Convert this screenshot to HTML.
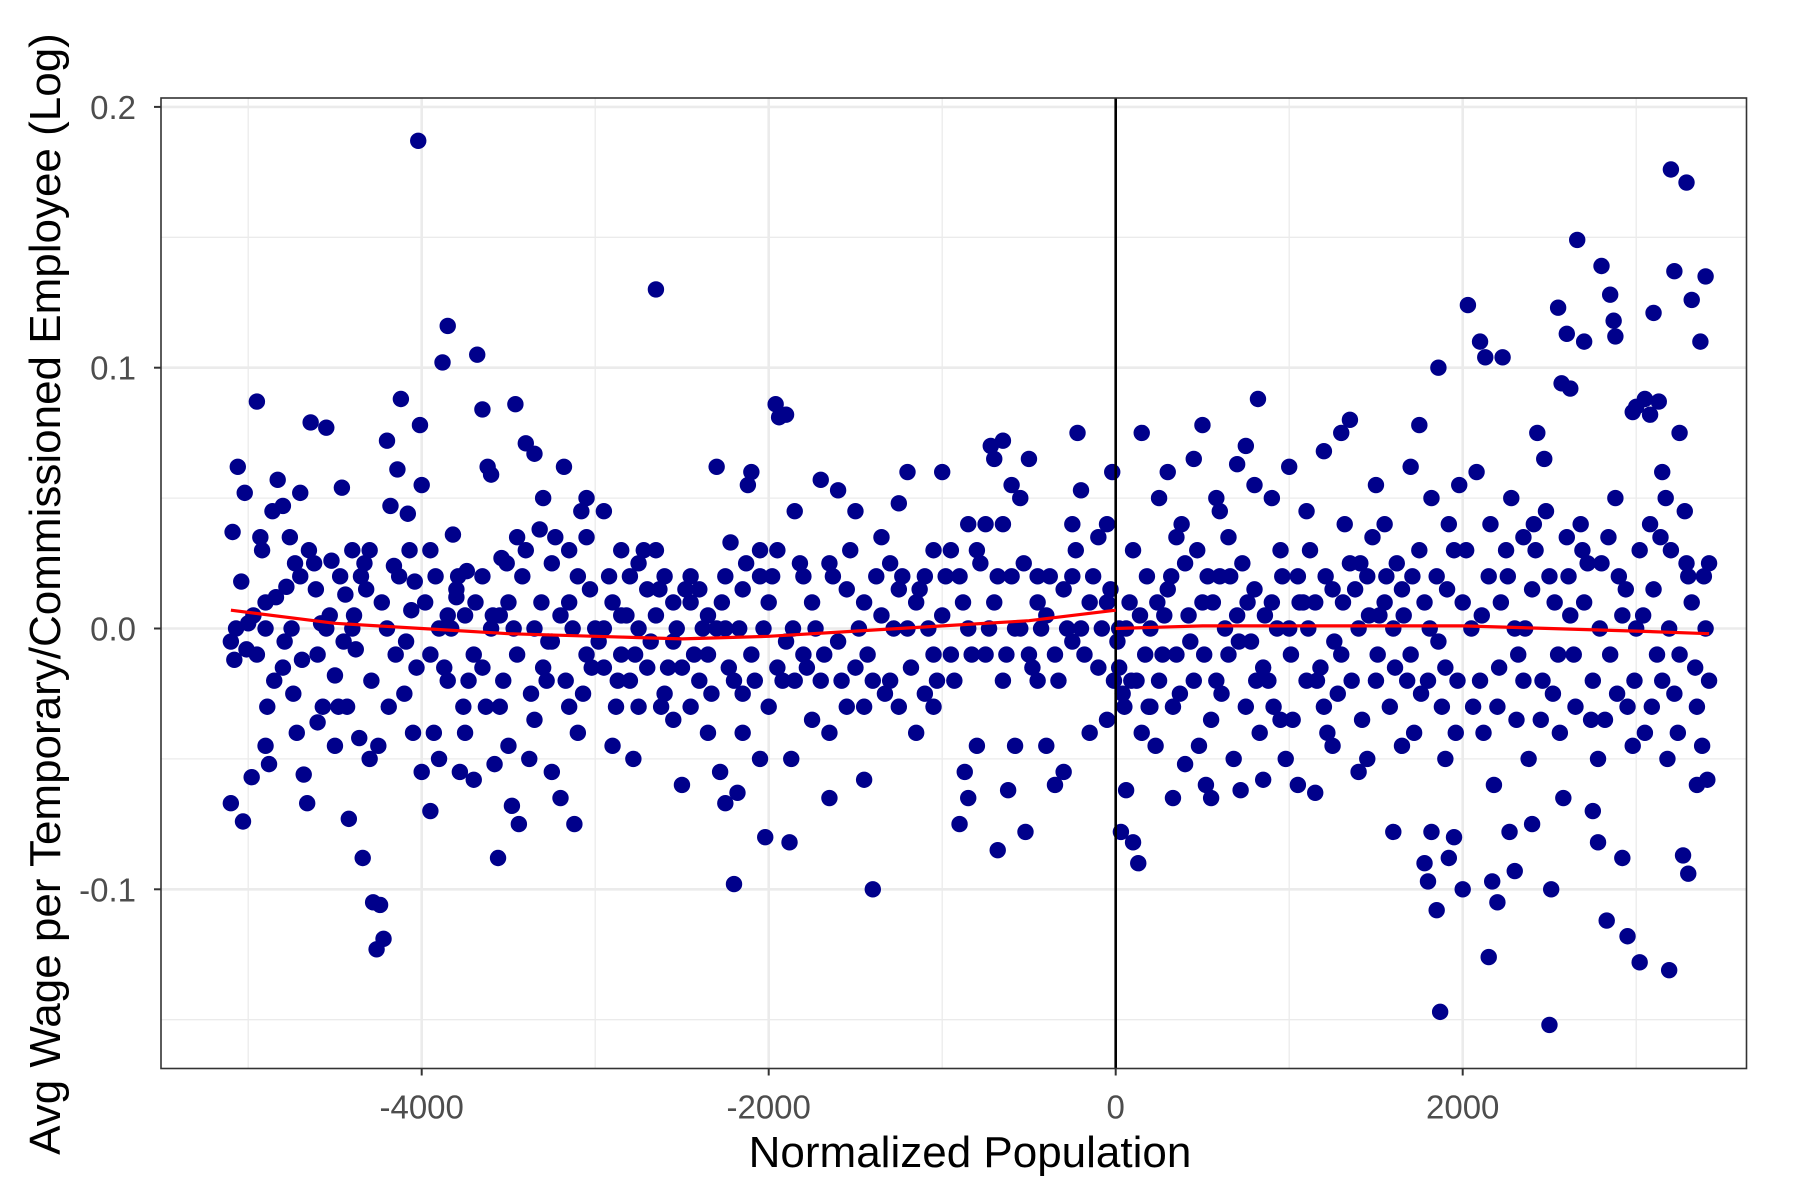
<!DOCTYPE html>
<html><head><meta charset="utf-8"><style>
html,body{margin:0;padding:0;background:#fff;}
svg{display:block;font-family:"Liberation Sans",Arial,sans-serif;}
</style></head><body>
<svg id="chart" width="1800" height="1200" viewBox="0 0 1800 1200" xmlns="http://www.w3.org/2000/svg">
<rect width="1800" height="1200" fill="#fff"/>
<g id="grid"></g>
<g id="marks"></g>
<g id="lines"></g>
<g id="axes"></g>
<text x="970" y="1167" text-anchor="middle" font-size="44" fill="#000">Normalized Population</text>
<text transform="translate(60,594) rotate(-90)" text-anchor="middle" font-size="44" fill="#000">Avg Wage per Temporary/Commissioned Employee (Log)</text>
</svg>
<script>
const xTicks=[-4000,-2000,0,2000];
const xTickLabels=["-4000","-2000","0","2000"];
const xMinor=[-5000,-3000,-1000,1000,3000];
const yTicks=[-0.1,0,0.1,0.2];
const yTickLabels=["-0.1","0.0","0.1","0.2"];
const yMinor=[-0.15,-0.05,0.05,0.15];
const ptX=[-5100,-5080,-5090,-5060,-5040,-5020,-5000,-4950,-4980,-5030,-5100,-4900,-4880,-4920,-4860,-4830,-4800,-4780,-4760,-4740,-4720,-4700,-4680,-4660,-4640,-4620,-4600,-4580,-4550,-4520,-4500,-4480,-4460,-4440,-4420,-4400,-4380,-4360,-4340,-4320,-4300,-4280,-4260,-4240,-4220,-4200,-4180,-4160,-4140,-4120,-4100,-4080,-4060,-4040,-4000,-4020,-4010,-4000,-4950,-4900,-4850,-4800,-4700,-4600,-4500,-4400,-4300,-4200,-4150,-4050,-4900,-4750,-4650,-4550,-4450,-4350,-4250,
-3950,-3930,-3900,-3880,-3850,-3820,-3800,-3780,-3760,-3740,-3700,-3680,-3650,-3620,-3600,-3580,-3560,-3540,-3500,-3480,-3460,-3440,-3400,-3380,-3350,-3320,-3300,-3280,-3250,-3200,-3180,-3150,-3120,-3100,-3080,-3050,-3020,-3000,-3950,-3900,-3850,-3800,-3750,-3700,-3650,-3600,-3550,-3500,-3450,-3400,-3350,-3300,-3250,-3200,-3150,-3100,-3050,-3950,-3850,-3750,-3650,-3550,-3450,-3350,-3250,-3150,-3050,
-2950,-2900,-2880,-2850,-2800,-2780,-2750,-2700,-2650,-2620,-2600,-2550,-2500,-2450,-2400,-2350,-2300,-2280,-2250,-2220,-2200,-2180,-2150,-2120,-2100,-2050,-2020,-2000,-1960,-1940,-1900,-1880,-1870,-1850,-2950,-2900,-2850,-2800,-2750,-2700,-2650,-2600,-2550,-2500,-2450,-2400,-2350,-2300,-2250,-2200,-2150,-2100,-2050,-2000,-1950,-1900,-2950,-2850,-2750,-2650,-2550,-2450,-2350,-2250,-2150,-2050,-1950,
-1800,-1750,-1700,-1650,-1600,-1550,-1500,-1450,-1400,-1350,-1300,-1250,-1200,-1150,-1100,-1050,-1000,-950,-900,-870,-850,-800,-750,-720,-700,-680,-650,-620,-600,-580,-550,-520,-500,-450,-400,-350,-300,-250,-220,-200,-150,-100,-50,-20,-10,-1800,-1750,-1700,-1650,-1600,-1550,-1500,-1450,-1400,-1350,-1300,-1250,-1200,-1150,-1100,-1050,-1000,-950,-900,-850,-800,-750,-700,-650,-600,-550,-500,-450,-400,-350,-300,-250,-200,-150,-100,-50,-1850,-1650,-1450,-1250,-1050,-850,-650,-450,-250,-50,
20,30,60,100,130,150,180,200,250,300,330,350,400,450,500,520,550,580,600,650,700,720,750,800,820,850,900,950,20,50,80,120,150,200,250,300,350,400,450,500,550,600,650,700,750,800,850,900,950,40,100,170,230,280,330,380,430,480,530,580,630,680,730,780,830,880,930,980,
1000,1050,1100,1150,1200,1250,1300,1350,1400,1450,1500,1550,1600,1650,1700,1750,1780,1800,1820,1850,1860,1870,1900,1920,1950,2000,1000,1050,1100,1150,1200,1250,1300,1350,1400,1450,1500,1550,1600,1650,1700,1750,1800,1850,1900,1950,2000,1020,1120,1220,1320,1420,1520,1620,1720,1820,1920,1980,1080,1180,1280,1380,1480,1580,1680,1780,1880,1960,
2030,2100,2130,2150,2170,2200,2230,2270,2300,2350,2400,2430,2470,2500,2510,2550,2570,2600,2620,2660,2700,2750,2780,2800,2830,2850,2870,2880,2920,2950,2980,3000,3020,3050,3080,3100,3130,3150,3170,3190,3200,3220,3250,3270,3290,3300,3320,3350,3370,3400,3410,3420,2050,2100,2150,2200,2250,2300,2350,2400,2450,2500,2550,2600,2650,2700,2750,2800,2850,2900,2950,3000,3050,3100,3150,3200,3250,3300,3350,3400,2080,2180,2280,2380,2480,2580,2680,2780,2880,2980,3080,3180,3280,3380,2120,2220,2320,2420,2520,2620,2720,2820,2920,3020,3120,3220,3320,3420,
-5070,-5010,-4970,-4930,-4890,-4840,-4790,-4730,-4690,-4610,-4570,-4530,-4470,-4430,-4390,-4330,-4290,-4230,-4190,-4130,-4090,-4070,-4030,-3980,-3920,-3870,-3830,-3790,-3730,-3690,-3630,-3590,-3530,-3510,-3470,-3420,-3370,-3310,-3270,-3230,-3170,-3130,-3070,-3030,-2980,-2920,-2870,-2820,-2770,-2720,-2680,-2630,-2580,-2530,-2480,-2430,-2380,-2330,-2270,-2230,-2170,-2130,-2080,-2030,-1980,-1920,-1860,-1820,-1780,-1730,-1680,-1630,-1580,-1530,-1480,-1430,-1380,-1330,-1280,-1230,-1180,-1130,-1080,-1030,-980,-930,-880,-830,-780,-730,-680,-630,-580,-530,-480,-430,-380,-330,-280,-230,-180,-130,-80,-30,
10,60,90,140,190,240,270,320,370,420,470,510,560,610,660,710,760,810,860,910,960,1010,1060,1110,1160,1210,1260,1310,1360,1410,1460,1510,1560,1610,1660,1710,1760,1810,1860,1910,1970,2020,2060,2110,2160,2210,2260,2310,2360,2410,2460,2530,2560,2610,2640,2690,2740,2790,2840,2890,2940,2990,3040,3090,3140,3190,3240,3290,3340,3390];
const ptY=[-0.005,-0.012,0.037,0.062,0.018,0.052,0.002,0.087,-0.057,-0.074,-0.067,-0.045,-0.052,0.03,0.045,0.057,0.047,0.016,0.035,-0.025,-0.04,0.052,-0.056,-0.067,0.079,0.025,-0.036,0.002,0.077,0.026,-0.018,-0.03,0.054,0.013,-0.073,0.0,-0.008,-0.042,-0.088,0.015,0.03,-0.105,-0.123,-0.106,-0.119,0.072,0.047,0.024,0.061,0.088,-0.025,0.044,0.007,0.018,-0.055,0.187,0.078,0.055,-0.01,0.0,-0.02,-0.015,0.02,-0.01,-0.045,0.03,-0.05,0.0,-0.01,-0.04,0.01,0.0,0.03,0.0,-0.005,0.02,-0.045,
-0.07,-0.04,-0.05,0.102,0.116,0.036,0.012,-0.055,-0.03,0.022,-0.058,0.105,0.084,0.062,0.059,-0.052,-0.088,0.027,-0.045,-0.068,0.086,-0.075,0.071,-0.05,0.067,0.038,0.05,-0.02,-0.055,-0.065,0.062,0.03,-0.075,-0.04,0.045,0.05,-0.015,0.0,0.03,0.0,-0.02,0.015,0.005,-0.01,0.02,0.0,-0.03,0.01,-0.01,0.03,0.0,-0.015,0.025,0.005,-0.03,0.02,-0.01,-0.01,0.005,-0.04,-0.015,0.005,0.035,-0.035,-0.005,0.01,0.035,
0.045,-0.045,-0.03,0.03,0.02,-0.05,0.0,0.015,0.13,-0.03,0.02,-0.005,-0.06,0.01,-0.02,0.005,0.062,-0.055,-0.067,0.033,-0.098,-0.063,-0.04,0.055,0.06,0.02,-0.08,-0.03,0.086,0.081,0.082,-0.082,-0.05,0.045,0.0,0.01,-0.01,-0.02,0.025,-0.015,0.005,-0.025,0.01,-0.015,-0.03,0.015,-0.01,0.0,0.02,-0.02,0.015,-0.01,0.03,0.01,0.03,-0.005,-0.015,0.005,-0.03,0.03,-0.035,0.02,-0.04,0.0,-0.025,-0.05,-0.015,
0.02,-0.035,0.057,-0.065,0.053,-0.03,0.045,-0.058,-0.1,0.035,-0.02,0.048,0.06,-0.04,0.02,-0.01,0.06,0.03,-0.075,-0.055,-0.065,-0.045,0.04,0.07,0.065,-0.085,0.072,-0.062,0.055,-0.045,0.05,-0.078,0.065,0.02,-0.045,-0.06,-0.055,0.04,0.075,0.053,-0.04,0.035,0.04,0.06,-0.02,-0.01,0.01,-0.02,0.025,-0.005,0.015,-0.015,0.01,-0.02,0.005,0.025,-0.03,0.0,0.01,-0.025,0.03,0.005,-0.01,0.02,0.0,0.03,-0.01,0.01,-0.02,0.02,0.0,-0.01,0.01,0.005,-0.01,0.015,-0.005,0.0,0.01,-0.015,0.01,-0.02,-0.04,-0.03,0.015,-0.03,0.04,0.04,-0.02,0.02,-0.035,
-0.015,-0.078,-0.062,-0.082,-0.09,0.075,0.02,-0.03,0.05,0.06,-0.065,0.035,-0.052,0.065,0.078,-0.06,-0.065,0.05,0.045,0.035,0.063,-0.062,0.07,0.055,0.088,-0.058,0.05,-0.035,0.0,-0.03,0.01,-0.02,-0.04,0.0,-0.02,0.015,-0.01,0.025,-0.02,0.01,-0.035,0.02,-0.01,0.005,-0.03,0.015,-0.015,0.01,0.03,-0.025,0.03,-0.01,-0.045,0.005,-0.03,0.04,-0.005,-0.045,0.02,-0.02,0.0,-0.05,0.025,-0.005,-0.04,-0.02,0.0,-0.05,
0.062,-0.06,0.045,-0.063,0.068,-0.045,0.075,0.08,-0.055,-0.05,0.055,0.04,-0.078,-0.045,0.062,0.078,-0.09,-0.097,-0.078,-0.108,0.1,-0.147,-0.05,-0.088,-0.08,-0.1,0.0,0.02,-0.02,0.01,-0.03,0.015,-0.01,0.025,0.0,0.02,-0.02,0.01,0.0,0.015,-0.01,0.03,-0.02,0.02,-0.015,0.03,0.01,-0.035,0.03,-0.04,0.04,-0.035,0.005,0.025,-0.04,0.05,0.04,0.055,0.01,-0.015,-0.025,0.015,0.035,-0.03,-0.02,0.01,-0.03,-0.04,
0.124,0.11,0.104,-0.126,-0.097,-0.105,0.104,-0.078,-0.093,0.035,-0.075,0.075,0.065,-0.152,-0.1,0.123,0.094,0.113,0.092,0.149,0.11,-0.07,-0.082,0.139,-0.112,0.128,0.118,0.112,-0.088,-0.118,0.083,0.085,-0.128,0.088,0.082,0.121,0.087,0.06,0.05,-0.131,0.176,0.137,0.075,-0.087,0.171,-0.094,0.126,-0.06,0.11,0.135,-0.058,0.025,0.0,-0.02,0.02,-0.03,0.03,0.0,-0.02,0.015,-0.035,0.02,-0.01,0.035,-0.03,0.01,-0.02,0.025,-0.01,0.02,-0.03,0.0,-0.04,0.015,-0.02,0.03,-0.01,0.02,-0.03,0.0,0.06,-0.06,0.05,-0.05,0.045,-0.065,0.04,-0.05,0.05,-0.045,0.04,-0.05,0.045,-0.045,-0.04,0.01,-0.01,0.03,-0.025,0.005,0.025,-0.035,0.005,0.03,-0.01,-0.025,0.01,-0.02,
0.0,-0.008,0.005,0.035,-0.03,0.012,-0.005,0.025,-0.012,0.015,-0.03,0.005,0.02,-0.03,0.005,0.025,-0.02,0.01,-0.03,0.02,-0.005,0.03,-0.015,0.01,0.02,-0.015,0.0,0.02,-0.02,0.01,-0.03,0.005,-0.02,0.025,0.0,0.02,-0.025,0.01,-0.005,0.035,-0.02,0.0,-0.025,0.015,-0.005,0.02,-0.02,0.005,-0.01,0.03,-0.005,0.015,-0.015,0.0,0.015,-0.01,0.0,-0.025,0.01,-0.015,0.0,0.025,-0.02,0.0,0.02,-0.02,0.0,0.025,-0.015,0.0,-0.01,0.02,-0.02,0.03,0.0,-0.01,0.02,-0.025,0.0,0.02,-0.015,0.015,0.0,-0.02,0.02,-0.02,0.01,-0.01,0.025,0.0,0.02,-0.01,0.0,0.025,-0.015,0.0,0.02,-0.02,0.0,0.03,-0.01,0.02,0.0,0.015,
-0.005,0.0,-0.02,0.005,-0.03,0.01,-0.01,0.02,-0.025,0.005,0.03,-0.01,0.01,-0.025,0.02,-0.005,0.01,-0.02,0.005,-0.03,0.02,-0.01,0.01,0.0,-0.02,0.02,-0.005,0.01,-0.02,0.025,0.005,-0.01,0.02,-0.015,0.005,0.02,-0.025,0.0,-0.005,0.015,-0.02,0.03,-0.03,0.005,0.04,-0.015,0.02,-0.035,0.0,0.04,-0.02,0.01,-0.04,0.02,-0.01,0.03,-0.035,0.0,0.035,-0.025,0.015,-0.02,0.005,-0.03,0.035,0.0,-0.04,0.025,-0.015,0.02];
const fitLeftX=[-5100,-4500,-4000,-3500,-3000,-2500,-2000,-1500,-1000,-500,0];
const fitLeftY=[0.007,0.002,0.0,-0.002,-0.003,-0.004,-0.003,-0.001,0.001,0.003,0.007];
const fitRightX=[0,500,1000,1500,2000,2500,3000,3420];
const fitRightY=[0.0,0.001,0.001,0.001,0.001,0.0,-0.001,-0.002];

const L=161,R=1746.5,T=98,B=1068.5;
function sx(v){return 1115.7+v*0.1735;}
function sy(v){return 628.5-v*2608;}
const NS="http://www.w3.org/2000/svg";
function mk(tag,attrs,parent){const e=document.createElementNS(NS,tag);for(const k in attrs)e.setAttribute(k,attrs[k]);parent.appendChild(e);return e;}
const grid=document.getElementById('grid'),marks=document.getElementById('marks'),lines=document.getElementById('lines'),axes=document.getElementById('axes');
mk('rect',{x:L,y:T,width:R-L,height:B-T,fill:'#fff'},grid);
xMinor.forEach(v=>{const e=mk('line',{x1:sx(v),x2:sx(v),y1:T,y2:B,stroke:'#ebebeb','stroke-width':1.3},grid);

});
yMinor.forEach(v=>{const e=mk('line',{x1:L,x2:R,y1:sy(v),y2:sy(v),stroke:'#ebebeb','stroke-width':1.3},grid);

});
xTicks.forEach(v=>{const e=mk('line',{x1:sx(v),x2:sx(v),y1:T,y2:B,stroke:'#ebebeb','stroke-width':2.6},grid);

});
yTicks.forEach(v=>{const e=mk('line',{x1:L,x2:R,y1:sy(v),y2:sy(v),stroke:'#ebebeb','stroke-width':2.6},grid);

});
const n=Math.min(ptX.length,ptY.length);
for(let i=0;i<n;i++){const c=mk('circle',{cx:sx(ptX[i]),cy:sy(ptY[i]),r:8.2,fill:'#00008b'},marks);

}
function path(xs,ys){return xs.map((x,i)=>(i?'L':'M')+sx(x).toFixed(1)+','+sy(ys[i]).toFixed(1)).join(' ');}
const vl=mk('line',{x1:sx(0),x2:sx(0),y1:T,y2:B,stroke:'#000','stroke-width':2.6},lines);


const fl=mk('path',{d:path(fitLeftX,fitLeftY),fill:'none',stroke:'#ff0000','stroke-width':3.2},lines);


const fr=mk('path',{d:path(fitRightX,fitRightY),fill:'none',stroke:'#ff0000','stroke-width':3.2},lines);


const border=mk('rect',{x:L,y:T,width:R-L,height:B-T,fill:'none',stroke:'#333','stroke-width':1.6},axes);


xTicks.forEach((v,i)=>{mk('line',{x1:sx(v),x2:sx(v),y1:B,y2:B+7,stroke:'#333','stroke-width':2},axes);
const t=mk('text',{x:sx(v),y:B+50,'text-anchor':'middle','font-size':33,fill:'#4d4d4d'},axes);t.textContent=xTickLabels[i];

});
yTicks.forEach((v,i)=>{mk('line',{x1:L-7,x2:L,y1:sy(v),y2:sy(v),stroke:'#333','stroke-width':2},axes);
const t=mk('text',{x:L-25,y:sy(v)+12,'text-anchor':'end','font-size':33,fill:'#4d4d4d'},axes);t.textContent=yTickLabels[i];

});
</script>
</body></html>
